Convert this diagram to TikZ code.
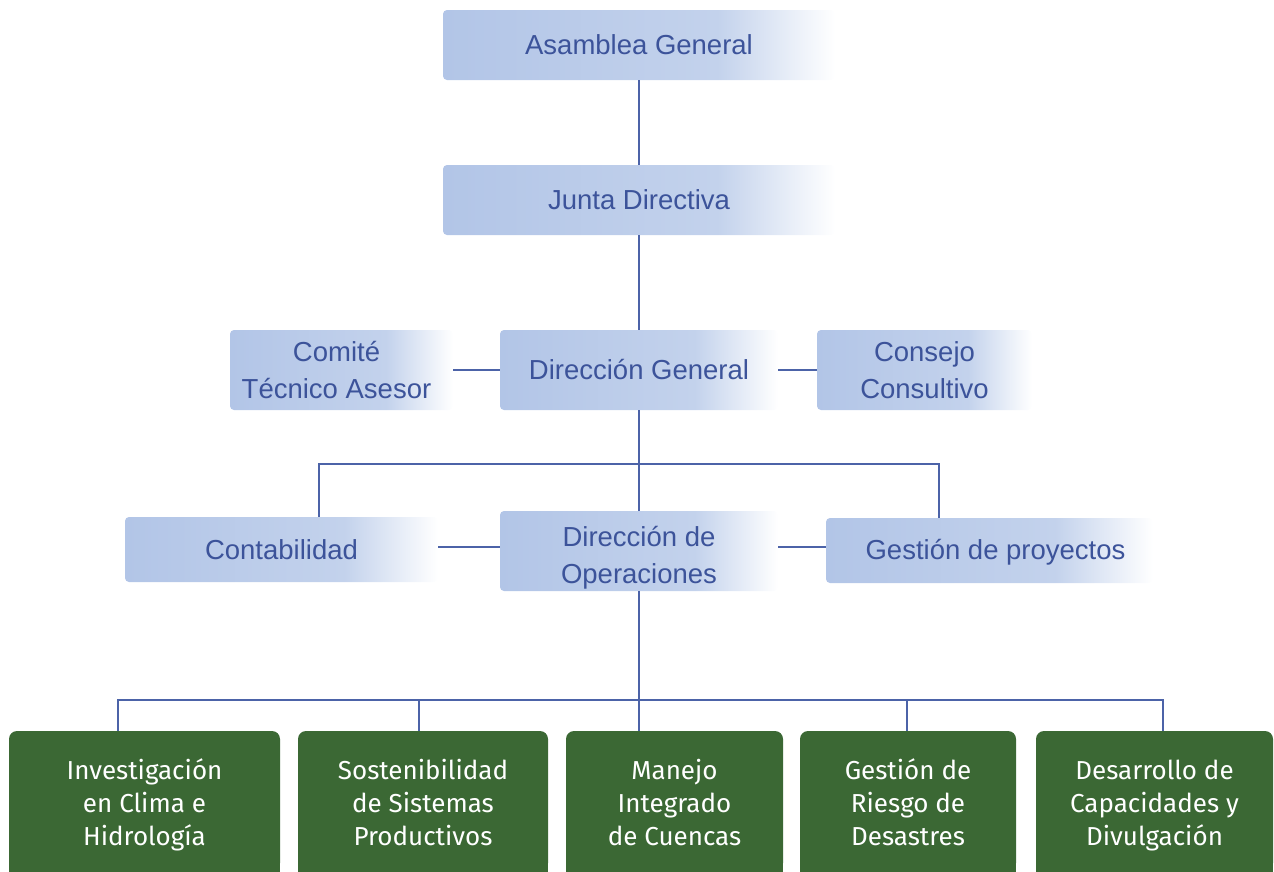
\documentclass[tikz,border=0pt]{standalone}
\usepackage{fontspec}
\newfontfamily\bluefont{Liberation Sans}
\newfontfamily\greenfont{Fira Sans}
\definecolor{boxblue}{HTML}{B2C5E7}
\definecolor{boxblue2}{HTML}{C3D2EC}
\definecolor{txtblue}{HTML}{3C539A}
\definecolor{linecol}{HTML}{4C63A8}
\definecolor{gfill}{HTML}{3B6834}
\pgfdeclarehorizontalshading{boxshade}{100bp}{color(0bp)=(boxblue); color(25bp)=(boxblue); color(60bp)=(boxblue2); color(75bp)=(white); color(100bp)=(white)}
\tikzset{
  bbox/.style={rectangle, rounded corners=4pt, shading=boxshade, draw=none, text=txtblue, align=center,
    font=\bluefont\fontsize{27.5}{37}\selectfont, inner sep=0pt},
  gbox/.style={rectangle, rounded corners=8pt, fill=gfill, text=white, align=center,
    font=\greenfont\fontsize{26}{33}\selectfont, inner sep=0pt, minimum height=140pt},
  conn/.style={draw=linecol, line width=1.1pt}
}
\newcommand\gtxt[1]{\raisebox{-5pt}[\height][\depth]{\begin{tabular}{@{}c@{}}#1\end{tabular}}}
\begin{document}
\begin{tikzpicture}[x=1pt,y=-1pt]
\useasboundingbox (0,0) rectangle (1274,871);
\clip (0,0) rectangle (1274,871);
\coordinate (cL) at (319,464);
\coordinate (cR) at (939,464);
\coordinate (bL) at (118,700);
\coordinate (b2) at (419,700);
\coordinate (b4) at (907,700);
\coordinate (bR) at (1163,700);
% blue boxes
\node[bbox, minimum width=392pt, minimum height=70pt] (AG) at (639,45) {Asamblea General};
\node[bbox, minimum width=392pt, minimum height=70pt] (JD) at (639,200) {Junta Directiva};
\node[bbox, minimum width=278pt, minimum height=80pt] (DG) at (639,370) {Dirección General};
\node[bbox, minimum width=223pt, minimum height=80pt] (CT) at (341.5,370) {\hspace*{-10pt}Comité\\\hspace*{-10pt}Técnico Asesor};
\node[bbox, minimum width=215pt, minimum height=80pt] (CC) at (924.5,370) {Consejo\\Consultivo};
\node[bbox, minimum width=313pt, minimum height=65pt] (Cont) at (281.5,549.5) {Contabilidad};
\node[bbox, minimum width=278pt, minimum height=80pt] (DO) at (639,551) {\raisebox{-7pt}[\height][\depth]{\begin{tabular}{@{}c@{}}Dirección de\\Operaciones\end{tabular}}};
\node[bbox, minimum width=327pt, minimum height=65pt] (GP) at (989.5,550.5) {\raisebox{-2pt}[\height][\depth]{\hspace*{12pt}Gestión de proyectos}};
% green boxes
\node[gbox, minimum width=271pt] (g1) at (144.5,801) {\gtxt{Investigación\\en Clima e\\Hidrología}};
\node[gbox, minimum width=250pt] (g2) at (423,801) {\gtxt{Sostenibilidad\\de Sistemas\\Productivos}};
\node[gbox, minimum width=217pt] (g3) at (674.5,801) {\gtxt{Manejo\\Integrado\\de Cuencas}};
\node[gbox, minimum width=216pt] (g4) at (908,801) {\gtxt{Gestión de\\Riesgo de\\Desastres}};
\node[gbox, minimum width=237pt] (g5) at (1154.5,801) {\gtxt{Desarrollo de\\Capacidades y\\Divulgación}};
\foreach \g in {g1,g2,g3,g4,g5}{
  \fill[gfill] ([yshift=12pt]\g.south west) rectangle ([yshift=-2pt]\g.south east);
}
% connectors
\draw[conn] (AG) -- (JD);
\draw[conn] (JD) -- (DG);
\draw[conn] (DG) -- (DO);
\draw[conn] (CT) -- (DG);
\draw[conn] (DG) -- (CC);
\draw[conn] (cL |- Cont.north) -- (cL) -- (cR) -- (cR |- GP.north);
\draw[conn] (Cont.east |- 0,547) -- (DO.west |- 0,547);
\draw[conn] (DO.east |- 0,547) -- (GP.west |- 0,547);
\draw[conn] (DO.south) -- (DO.south |- g3.north);
\draw[conn] (bL |- g1.north) -- (bL) -- (bR) -- (bR |- g5.north);
\draw[conn] (b2) -- (b2 |- g2.north);
\draw[conn] (b4) -- (b4 |- g4.north);
\end{tikzpicture}
\end{document}
